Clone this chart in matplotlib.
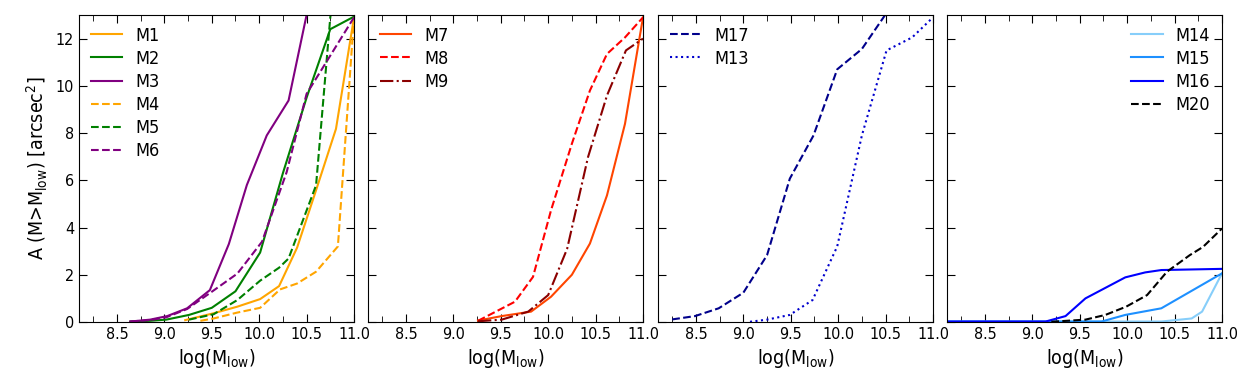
import matplotlib
matplotlib.use("Agg")
import matplotlib.pyplot as plt
from matplotlib.ticker import MultipleLocator
from matplotlib import font_manager

# ---- data ----
m1_x = [9.22, 9.52, 9.77, 10.01, 10.21, 10.40, 10.60, 10.81, 11.0]
m1_y = [0.08, 0.37, 0.65, 0.97, 1.52, 3.15, 5.58, 8.18, 12.9]
m2_x = [8.64, 8.85, 9.02, 9.26, 9.50, 9.75, 10.01, 10.25, 10.50, 10.75, 11.0]
m2_y = [0.02, 0.05, 0.10, 0.30, 0.60, 1.30, 2.94, 6.3, 9.5, 12.4, 12.93]
m3_x = [8.64, 8.85, 9.03, 9.24, 9.48, 9.68, 9.87, 10.08, 10.31, 10.50, 10.70]
m3_y = [0.02, 0.10, 0.25, 0.58, 1.35, 3.30, 5.80, 7.90, 9.38, 13.0, 16.0]
m4_x = [9.38, 9.52, 9.77, 10.01, 10.22, 10.40, 10.60, 10.83, 11.0]
m4_y = [0.05, 0.15, 0.40, 0.60, 1.38, 1.63, 2.13, 3.20, 12.9]
m5_x = [9.26, 9.52, 9.77, 10.01, 10.21, 10.31, 10.60, 10.75, 10.85]
m5_y = [0.10, 0.33, 0.93, 1.75, 2.30, 2.69, 5.79, 12.9, 16.0]
m6_x = [8.64, 8.85, 9.02, 9.24, 9.50, 9.77, 10.03, 10.29, 10.50, 10.75, 11.0]
m6_y = [0.02, 0.08, 0.20, 0.55, 1.28, 2.05, 3.40, 6.35, 9.66, 11.28, 12.9]

m7_x = [9.26, 9.51, 9.82, 10.03, 10.25, 10.44, 10.62, 10.81, 11.0]
m7_y = [0.06, 0.25, 0.44, 1.07, 2.00, 3.32, 5.36, 8.39, 12.9]
m8_x = [9.26, 9.65, 9.84, 10.03, 10.25, 10.44, 10.62, 10.81, 11.0]
m8_y = [0.05, 0.86, 1.91, 4.73, 7.55, 9.80, 11.35, 12.05, 12.9]
m9_x = [9.26, 9.51, 9.79, 10.00, 10.20, 10.42, 10.62, 10.82, 11.0]
m9_y = [0.03, 0.10, 0.44, 1.14, 3.10, 6.98, 9.59, 11.50, 12.0]

m17_x = [8.25, 8.49, 8.74, 9.00, 9.25, 9.49, 9.74, 9.99, 10.25, 10.49, 10.75]
m17_y = [0.11, 0.25, 0.58, 1.24, 2.83, 6.07, 7.90, 10.70, 11.56, 12.97, 15.0]
m13_x = [9.07, 9.25, 9.49, 9.73, 9.99, 10.25, 10.51, 10.78, 11.0]
m13_y = [0.01, 0.10, 0.30, 0.93, 3.20, 7.90, 11.50, 12.05, 12.9]

m14_x = [8.0, 10.36, 10.68, 10.79, 11.0]
m14_y = [0.02, 0.02, 0.15, 0.44, 2.06]
m15_x = [8.0, 9.73, 9.98, 10.36, 11.0]
m15_y = [0.02, 0.02, 0.30, 0.58, 2.06]
m16_x = [8.0, 9.14, 9.35, 9.56, 9.98, 10.19, 10.36, 11.0]
m16_y = [0.02, 0.02, 0.25, 1.00, 1.89, 2.10, 2.20, 2.25]
m20_x = [9.20, 9.56, 9.77, 9.99, 10.21, 10.42, 10.66, 10.80, 11.0]
m20_y = [0.01, 0.10, 0.30, 0.65, 1.14, 2.13, 2.83, 3.18, 3.96]

xticks = [8.5, 9.0, 9.5, 10.0, 10.5, 11.0]
yticks = [0, 2, 4, 6, 8, 10, 12]

# use a condensed face if available (reference text is narrow)
names = {f.name + "|" + str(f.stretch) for f in font_manager.fontManager.ttflist if 'DejaVu Sans' in f.name}
if any('condensed' in n for n in names):
    plt.rcParams['font.stretch'] = 'condensed'
plt.rcParams['font.family'] = ['DejaVu Sans']

fig = plt.figure(figsize=(12.59, 3.80), dpi=100)
W, H = 1259.0, 380.0
lefts = [79, 368, 658, 947]
axw = 275
top, bot = 15, 322
axes = []
for i, l in enumerate(lefts):
    ax = fig.add_axes([l / W, 1 - bot / H, axw / W, (bot - top) / H])
    axes.append(ax)

lw = 1.5
legkw = dict(frameon=False, fontsize=13, handlelength=1.75, handletextpad=0.7,
             labelspacing=0.28, borderaxespad=0.25)
a = axes[0]
a.plot(m1_x, m1_y, color='orange', ls='-', lw=lw, label='M1')
a.plot(m2_x, m2_y, color='green', ls='-', lw=lw, label='M2')
a.plot(m3_x, m3_y, color='purple', ls='-', lw=lw, label='M3')
a.plot(m4_x, m4_y, color='orange', ls='--', lw=lw, label='M4')
a.plot(m5_x, m5_y, color='green', ls='--', lw=lw, label='M5')
a.plot(m6_x, m6_y, color='purple', ls='--', lw=lw, label='M6')
a.legend(loc='upper left', **legkw)

a = axes[1]
a.plot(m7_x, m7_y, color='orangered', ls='-', lw=lw, label='M7')
a.plot(m8_x, m8_y, color='red', ls='--', lw=lw, label='M8')
a.plot(m9_x, m9_y, color='darkred', ls='-.', lw=lw, label='M9')
a.legend(loc='upper left', **legkw)

a = axes[2]
a.plot(m17_x, m17_y, color='darkblue', ls='--', lw=lw, label='M17')
a.plot(m13_x, m13_y, color='mediumblue', ls=':', lw=lw, label='M13')
a.legend(loc='upper left', **legkw)

a = axes[3]
a.plot(m14_x, m14_y, color='lightskyblue', ls='-', lw=lw, label='M14')
a.plot(m15_x, m15_y, color='dodgerblue', ls='-', lw=lw, label='M15')
a.plot(m16_x, m16_y, color='blue', ls='-', lw=lw, label='M16')
a.plot(m20_x, m20_y, color='black', ls='--', lw=lw, label='M20')
a.legend(loc='upper right', **legkw)

for i, ax in enumerate(axes):
    ax.set_xlim(8.1, 11.0)
    ax.set_ylim(0, 13)
    ax.set_xticks(xticks)
    ax.set_xticklabels([f"{t:.1f}" for t in xticks])
    ax.xaxis.set_minor_locator(MultipleLocator(0.25))
    ax.set_yticks(yticks)
    ax.tick_params(which='both', direction='in', top=True, right=True, labelsize=11.5)
    ax.tick_params(which='major', length=6)
    ax.tick_params(which='minor', length=4)
    ax.set_xlabel(r'log(M$_{\rm low}$)', fontsize=14)
    if i == 0:
        ax.set_ylabel(r'A (M>M$_{\rm low}$) [arcsec$^2$]', fontsize=14)
    else:
        ax.set_yticklabels([])

fig.savefig('out.png', dpi=100)
